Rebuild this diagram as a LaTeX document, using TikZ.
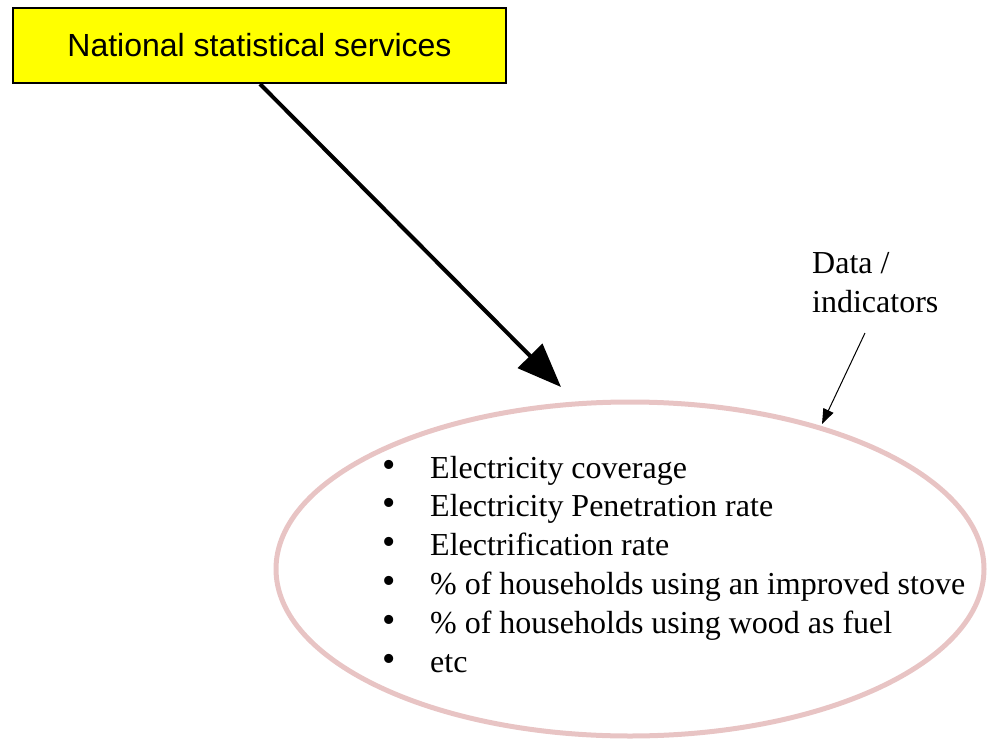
\documentclass[tikz,border=0pt]{standalone}
\usepackage{fontspec}
\setmainfont{Liberation Serif}
\newfontfamily\arialfont{Liberation Sans}
\usetikzlibrary{arrows.meta}
\definecolor{ellpink}{RGB}{232,196,196}
\definecolor{boxyellow}{RGB}{255,255,0}
\tikzset{
  titlebox/.style={draw=black, line width=2pt, fill=boxyellow, minimum width=493pt, minimum height=75pt, inner sep=0pt, font=\arialfont\fontsize{32}{36}\selectfont},
  bigarrow/.style={line width=4pt, -{Triangle[length=44pt,width=34pt]}},
  smallarrow/.style={line width=1pt, -{Triangle[length=15pt,width=11pt]}},
  ovalshape/.style={draw=ellpink, line width=5pt},
  serifnote/.style={font=\fontsize{32}{38.8}\selectfont, align=left, inner sep=0pt},
}
\newcommand{\bul}{\makebox[48pt][l]{\raisebox{1pt}{\fontsize{38}{38}\selectfont\textbullet}}}
\begin{document}
\begin{tikzpicture}[x=1pt,y=-1pt]
\useasboundingbox (0,0) rectangle (989,742);
\node[titlebox] (nss) at (259.5,45.5) {National statistical services};
\draw[ovalshape] (630,569) ellipse [x radius=354, y radius=167];
\coordinate (ell) at (630,569);
\coordinate (bigtip) at (561,387);
\coordinate (bigstart) at (260,84);
\draw[bigarrow] (bigstart) -- (bigtip);
\node[serifnote, anchor=base west] (data) at (812,312) {Data /\\indicators};
\coordinate (smallstart) at (865,333);
\coordinate (smalltip) at (822,424);
\draw[smallarrow] (smallstart) -- (smalltip);
\node[serifnote, anchor=base west] (list) at (382,672) {%
\bul Electricity coverage\\
\bul Electricity Penetration rate\\
\bul Electrification rate\\
\bul\% of households using an improved stove\\
\bul\% of households using wood as fuel\\
\bul etc};
\end{tikzpicture}
\end{document}
